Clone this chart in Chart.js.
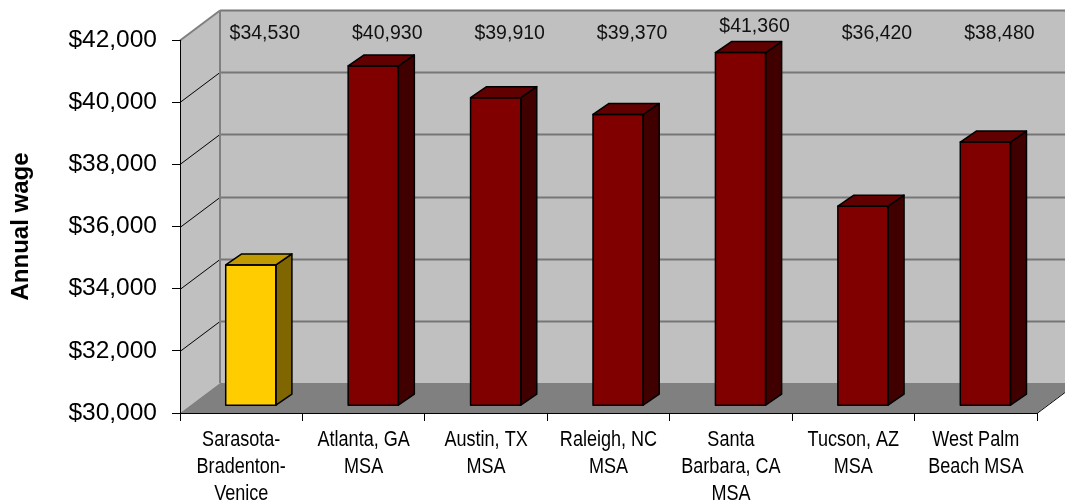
<!DOCTYPE html>
<html>
<head>
<meta charset="utf-8">
<title>Annual wage by metro area</title>
<script src="https://cdn.jsdelivr.net/npm/chart.js@4.4.1/dist/chart.umd.min.js"></script>
<style>
  html, body { margin: 0; padding: 0; background: #ffffff; }
  #wrap { width: 1065px; height: 504px; }
</style>
</head>
<body>
<div id="wrap"><canvas id="wageChart" width="1065" height="504"></canvas></div>
<script>
// Metro areas (multi-line axis labels)
const categories = [
  ["Sarasota-", "Bradenton-", "Venice"],
  ["Atlanta, GA", "MSA"],
  ["Austin, TX", "MSA"],
  ["Raleigh, NC", "MSA"],
  ["Santa", "Barbara, CA", "MSA"],
  ["Tucson, AZ", "MSA"],
  ["West Palm", "Beach MSA"]
];

// Average annual wage per metro area
const annualWage = [34530, 40930, 39910, 39370, 41360, 36420, 38480];

// Value-axis ticks
const wageTicks = [30000, 32000, 34000, 36000, 38000, 40000, 42000];

// Face colours of each 3-D column: front, right side, top
const frontColors = ["#FFCC00", "#800000", "#800000", "#800000", "#800000", "#800000", "#800000"];
const sideColors  = ["#806600", "#400000", "#400000", "#400000", "#400000", "#400000", "#400000"];
const topColors   = ["#C09A00", "#600000", "#600000", "#600000", "#600000", "#600000", "#600000"];

const money = v => "$" + v.toLocaleString("en-US");

// Perspective used for the walls / floor and for the columns
const WALL_DX = 40, WALL_DY = -30;          // depth of the plot box
const BAR_SHIFT_X = 9.6, BAR_SHIFT_Y = -7.3; // columns sit a little behind the front plane
const BAR_DX = 16, BAR_DY = -11;            // depth of each column
const EDGE = 1.5;                           // column outline width

// Category labels are set in a condensed face (horizontal squeeze)
const LABEL_FONT = "22px 'Liberation Sans', Arial, sans-serif";
const LABEL_SQUEEZE = 0.82;
const LABEL_LINE = 27;

const box3d = {
  id: "box3d",
  beforeDraw(chart) {
    const { ctx, chartArea: a, scales: { y } } = chart;
    const L = a.left, R = a.right;
    const T = y.getPixelForValue(wageTicks[wageTicks.length - 1]);
    const B = y.getPixelForValue(wageTicks[0]);
    ctx.save();
    // back wall
    ctx.fillStyle = "#C0C0C0";
    ctx.fillRect(L + WALL_DX, T + WALL_DY, R - L, B - T);
    // left side wall
    ctx.beginPath();
    ctx.moveTo(L, T); ctx.lineTo(L + WALL_DX, T + WALL_DY);
    ctx.lineTo(L + WALL_DX, B + WALL_DY); ctx.lineTo(L, B); ctx.closePath();
    ctx.fill();
    // floor
    ctx.fillStyle = "#808080";
    ctx.beginPath();
    ctx.moveTo(L, B); ctx.lineTo(L + WALL_DX, B + WALL_DY);
    ctx.lineTo(R + WALL_DX, B + WALL_DY); ctx.lineTo(R, B); ctx.closePath();
    ctx.fill();
    // gridlines on the back wall and their diagonals on the side wall
    wageTicks.forEach((v, i) => {
      if (i === 0) return;
      const py = Math.round(y.getPixelForValue(v)) + 0.5;
      const top = i === wageTicks.length - 1;
      ctx.strokeStyle = "#767676";
      ctx.lineWidth = 2;
      ctx.beginPath();
      ctx.moveTo(L + WALL_DX, py + WALL_DY); ctx.lineTo(R + WALL_DX + 2, py + WALL_DY);
      ctx.stroke();
      ctx.strokeStyle = top ? "#808080" : "#000000";
      ctx.lineWidth = top ? 2 : 1;
      ctx.beginPath();
      ctx.moveTo(L, py); ctx.lineTo(L + WALL_DX, py + WALL_DY);
      ctx.stroke();
    });
    // back-wall left edge
    ctx.strokeStyle = "#808080";
    ctx.lineWidth = 2;
    ctx.beginPath();
    ctx.moveTo(L + WALL_DX, T + WALL_DY); ctx.lineTo(L + WALL_DX, B + WALL_DY);
    ctx.stroke();
    // floor right edge
    ctx.strokeStyle = "#000000";
    ctx.lineWidth = 1;
    ctx.beginPath();
    ctx.moveTo(R, B + 0.5); ctx.lineTo(R + WALL_DX, B + WALL_DY + 0.5);
    ctx.stroke();
    ctx.restore();
  },
  beforeDatasetDraw(chart) {
    chart.ctx.save();
    chart.ctx.translate(BAR_SHIFT_X, BAR_SHIFT_Y);
  },
  afterDatasetDraw(chart, args) {
    const ctx = chart.ctx;
    ctx.lineWidth = EDGE;
    ctx.strokeStyle = "#000000";
    ctx.lineJoin = "round";
    args.meta.data.forEach((bar, i) => {
      const { x, y, base, width } = bar.getProps(["x", "y", "base", "width"], true);
      const l = x - width / 2, r = x + width / 2;
      // right side
      ctx.fillStyle = sideColors[i];
      ctx.beginPath();
      ctx.moveTo(r, y); ctx.lineTo(r + BAR_DX, y + BAR_DY);
      ctx.lineTo(r + BAR_DX, base + BAR_DY); ctx.lineTo(r, base); ctx.closePath();
      ctx.fill(); ctx.stroke();
      // top
      ctx.fillStyle = topColors[i];
      ctx.beginPath();
      ctx.moveTo(l, y); ctx.lineTo(l + BAR_DX, y + BAR_DY);
      ctx.lineTo(r + BAR_DX, y + BAR_DY); ctx.lineTo(r, y); ctx.closePath();
      ctx.fill(); ctx.stroke();
      // front outline
      ctx.strokeRect(l, y, width, base - y);
    });
    ctx.restore();
  },
  afterDatasetsDraw(chart) {
    const ctx = chart.ctx;
    const meta = chart.getDatasetMeta(0);
    ctx.save();
    ctx.font = "19.5px 'Liberation Sans', Arial, sans-serif";
    ctx.fillStyle = "#111111";
    ctx.textAlign = "center";
    ctx.textBaseline = "middle";
    meta.data.forEach((bar, i) => {
      const backTop = bar.y + BAR_SHIFT_Y + BAR_DY;
      const ly = Math.min(34, backTop - 15);
      ctx.fillText(money(annualWage[i]), bar.x + BAR_SHIFT_X + 14, ly);
    });
    ctx.restore();
  },
  afterDraw(chart) {
    // condensed multi-line category labels under each tick slot
    const ctx = chart.ctx;
    const xs = chart.scales.x;
    ctx.save();
    ctx.font = LABEL_FONT;
    ctx.fillStyle = "#000000";
    ctx.textAlign = "center";
    ctx.textBaseline = "middle";
    categories.forEach((lines, i) => {
      const cx = xs.getPixelForTick(i);
      lines.forEach((t, j) => {
        ctx.save();
        ctx.translate(cx, xs.top + 27 + j * LABEL_LINE);
        ctx.scale(LABEL_SQUEEZE, 1);
        ctx.fillText(t, 0, 0);
        ctx.restore();
      });
    });
    ctx.restore();
  }
};

new Chart(document.getElementById("wageChart"), {
  type: "bar",
  data: {
    labels: categories,
    datasets: [{
      data: annualWage,
      base: wageTicks[0],
      backgroundColor: frontColors,
      borderWidth: 0,
      barPercentage: 0.41,
      categoryPercentage: 1,
      clip: false
    }]
  },
  options: {
    responsive: false,
    animation: false,
    devicePixelRatio: 1,
    layout: { padding: { top: 40, right: 28, left: 0, bottom: 0 } },
    plugins: { legend: { display: false }, tooltip: { enabled: false }, title: { display: false } },
    scales: {
      x: {
        grid: { offset: true, drawOnChartArea: false, drawTicks: true, tickLength: 8, color: "#000000" },
        border: { display: true, color: "#000000", width: 1 },
        ticks: { display: false, autoSkip: false, maxRotation: 0 },
        afterFit(scale) { scale.height = 91; }
      },
      y: {
        min: wageTicks[0],
        max: wageTicks[wageTicks.length - 1],
        afterBuildTicks(scale) { scale.ticks = wageTicks.map(v => ({ value: v })); },
        grid: { drawOnChartArea: false, drawTicks: true, tickLength: 8, color: "#000000" },
        border: { display: true, color: "#000000", width: 1 },
        ticks: {
          color: "#000000",
          padding: 15,
          font: { family: "'Liberation Sans', Arial, sans-serif", size: 24.5 },
          callback: v => money(v)
        },
        title: {
          display: true,
          text: "Annual wage",
          color: "#000000",
          padding: { top: 7, bottom: 0 },
          font: { family: "'Liberation Sans', Arial, sans-serif", size: 24, weight: "bold", lineHeight: 1.2 }
        },
        afterFit(scale) { scale.width = 180; }
      }
    }
  },
  plugins: [box3d]
});
</script>
</body>
</html>
